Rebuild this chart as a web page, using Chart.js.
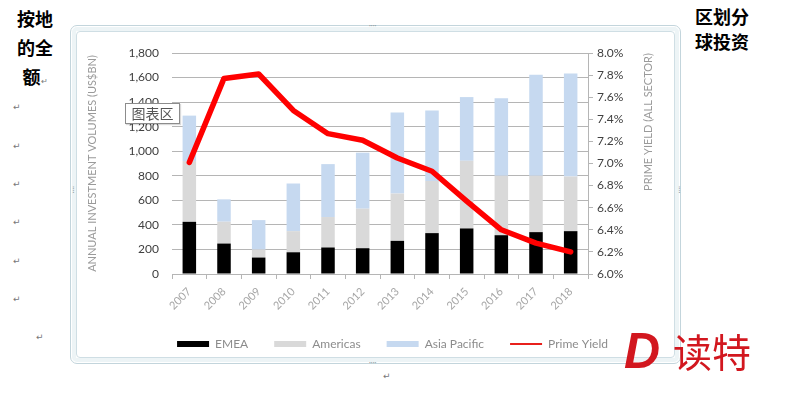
<!DOCTYPE html>
<html>
<head>
<meta charset="utf-8">
<script src="https://cdn.jsdelivr.net/npm/chart.js@4.4.1/dist/chart.umd.min.js"></script>
<style>
  body { margin: 0; width: 800px; height: 394px; background: #fff; position: relative; overflow: hidden; font-family: Lato, sans-serif; }
  .cn { position: absolute; font-family: "Noto Sans CJK SC", sans-serif; font-weight: bold; font-size: 18px; color: #000; }
  .mark { position: absolute; font-family: "DejaVu Sans", sans-serif; font-size: 9px; color: #777; }
  #frame { position: absolute; left: 70px; top: 25px; width: 611px; height: 339px; box-sizing: border-box;
           border: 1px solid #c3d5dc; border-radius: 7px; background: #fff; }
  #frame .inner { position: absolute; left: 5px; top: 5px; right: 5px; bottom: 5px; border: 1px solid #cfdee4; border-radius: 4px; }
  #frame .strip { position: absolute; left: 1px; top: 1px; right: 1px; bottom: 1px; border: 4px solid #edf4f6; border-radius: 5px; }
  .handle { position: absolute; font-size: 7px; color: #8a9aa0; line-height: 7px; letter-spacing: 0; }
  #chart { position: absolute; left: 72px; top: 28px; }
  #tag { position: absolute; left: 125px; top: 103px; width: 53px; height: 19px; border: 1px solid #8c8c8c; background: #fff;
         font-family: "Noto Sans CJK SC", sans-serif; font-size: 14px; line-height: 19px; color: #555; text-align: center;
         box-shadow: 1px 1px 1px rgba(0,0,0,0.15); }
  .logo { position: absolute; color: #d2171f; }
</style>
</head>
<body>
<div class="cn" style="left:10px; top:4px; width:50px; text-align:center; line-height:29px;">按地<br>的全<br>额<span style="font-size:8px;font-weight:normal;color:#777">↵</span></div>
<div class="cn" style="left:695px; top:4px; line-height:25px;">区划分<br>球投资</div>

<div class="mark" style="left:13px; top:102px;">↵</div>
<div class="mark" style="left:13px; top:141px;">↵</div>
<div class="mark" style="left:13px; top:179px;">↵</div>
<div class="mark" style="left:13px; top:217px;">↵</div>
<div class="mark" style="left:13px; top:256px;">↵</div>
<div class="mark" style="left:13px; top:294px;">↵</div>
<div class="mark" style="left:36px; top:332px;">↵</div>
<div class="mark" style="left:383px; top:371px;">↵</div>

<div id="frame"><div class="strip"></div><div class="inner"></div></div>
<div class="handle" style="left:369px; top:22px;">····</div>
<div class="handle" style="left:369px; top:359px;">····</div>
<div class="handle" style="left:70px; top:186px; writing-mode: vertical-rl;">····</div>
<div class="handle" style="left:676px; top:186px; writing-mode: vertical-rl;">····</div>

<canvas id="chart" width="641" height="332"></canvas>

<div id="tag">图表区</div>
<div class="logo" style="left:624px; top:327px; font-family:'Liberation Sans', sans-serif; font-weight:bold; font-style:italic; font-size:50px; line-height:48px;">D</div>
<div class="logo" style="left:673px; top:326px; font-family:'Noto Sans CJK SC', sans-serif; font-size:39px; line-height:48px;">读特</div>

<script>
// values
const years = ['2007', '2008', '2009', '2010', '2011', '2012', '2013', '2014', '2015', '2016', '2017', '2018'];
const emea = [425, 248, 134, 177, 216, 210, 270, 333, 371, 316, 341, 349];
const americas = [495, 178, 65, 172, 248, 322, 385, 425, 551, 484, 459, 445];
const asiaPacific = [370, 182, 240, 388, 431, 456, 660, 574, 519, 632, 823, 840];
const primeYield = [7.01, 7.77, 7.81, 7.48, 7.27, 7.21, 7.05, 6.93, 6.66, 6.40, 6.28, 6.20];

const gridColor = '#b5b5b5';

// правая подпись оси читается снизу вверх, рисуем сами
const rightTitle = {
    id: 'rightTitle',
    afterDraw(chart) {
        const ctx = chart.ctx;
        ctx.save();
        ctx.translate(648 - 72, 122 - 28);
        ctx.rotate(-Math.PI / 2);
        ctx.font = '11px Lato';
        ctx.fillStyle = '#9a9a9a';
        ctx.textAlign = 'center';
        ctx.textBaseline = 'middle';
        ctx.fillText('PRIME YIELD (ALL SECTOR)', 0, 0);
        ctx.restore();
    }
};

Chart.defaults.font.family = 'Lato';

new Chart(document.getElementById('chart'), {
    type: 'bar',
    data: {
        labels: years,
        datasets: [
            { label: 'EMEA', data: emea, backgroundColor: '#000000', order: 1 },
            { label: 'Americas', data: americas, backgroundColor: '#d9d9d9', order: 1 },
            { label: 'Asia Pacific', data: asiaPacific, backgroundColor: '#c6d9f0', order: 1 },
            {
                label: 'Prime Yield', data: primeYield, type: 'line', yAxisID: 'y1', order: 0,
                borderColor: '#ff0000', backgroundColor: '#ff0000', borderWidth: 5.5,
                pointRadius: 0, tension: 0, borderCapStyle: 'round', borderJoinStyle: 'round'
            }
        ]
    },
    options: {
        responsive: false,
        animation: false,
        devicePixelRatio: 1,
        datasets: { bar: { categoryPercentage: 1, barPercentage: 0.39 } },
        layout: { padding: { top: 25, left: 0, right: 0, bottom: 0 } },
        plugins: {
            tooltip: { enabled: false },
            legend: {
                position: 'bottom',
                labels: {
                    usePointStyle: true,
                    pointStyleWidth: 32,
                    boxHeight: 6,
                    padding: 26,
                    color: '#8c8c8c',
                    font: { size: 12 },
                    generateLabels(chart) {
                        const items = Chart.defaults.plugins.legend.labels.generateLabels(chart);
                        items.sort((a, b) => a.datasetIndex - b.datasetIndex);
                        items.forEach(it => {
                            if (it.datasetIndex === 3) {
                                it.pointStyle = 'line';
                                it.lineWidth = 2;
                                it.strokeStyle = '#e8201c';
                            } else {
                                it.pointStyle = 'rect';
                                it.lineWidth = 0;
                            }
                        });
                        return items;
                    }
                }
            }
        },
        scales: {
            x: {
                stacked: true,
                afterFit(scale) { scale.height = 38; },
                grid: { display: true, drawOnChartArea: false, tickLength: 5, color: gridColor, offset: true },
                border: { color: gridColor },
                ticks: { minRotation: 45, maxRotation: 45, color: '#a6a6a6', font: { size: 11 }, padding: 6 }
            },
            y: {
                stacked: true,
                min: 0, max: 1800,
                afterFit(scale) { scale.width = 100; },
                grid: { color: gridColor, drawTicks: false },
                border: { display: false },
                ticks: {
                    stepSize: 200, padding: 13, color: '#404040', font: { size: 12 },
                    callback: v => v.toLocaleString('en-US')
                },
                title: {
                    display: true, text: 'ANNUAL INVESTMENT VOLUMES (US$BN)', color: '#9a9a9a',
                    font: { size: 11 }, padding: { top: 14, bottom: 0 }
                }
            },
            y1: {
                position: 'right',
                min: 6, max: 8,
                afterFit(scale) { scale.width = 125; },
                grid: { drawOnChartArea: false, tickLength: 5, color: gridColor },
                border: { display: true, color: gridColor },
                ticks: {
                    stepSize: 0.2, padding: 4, color: '#404040', font: { size: 12 },
                    callback: v => v.toFixed(1) + '%'
                }
            }
        }
    },
    plugins: [rightTitle]
});
</script>
</body>
</html>
